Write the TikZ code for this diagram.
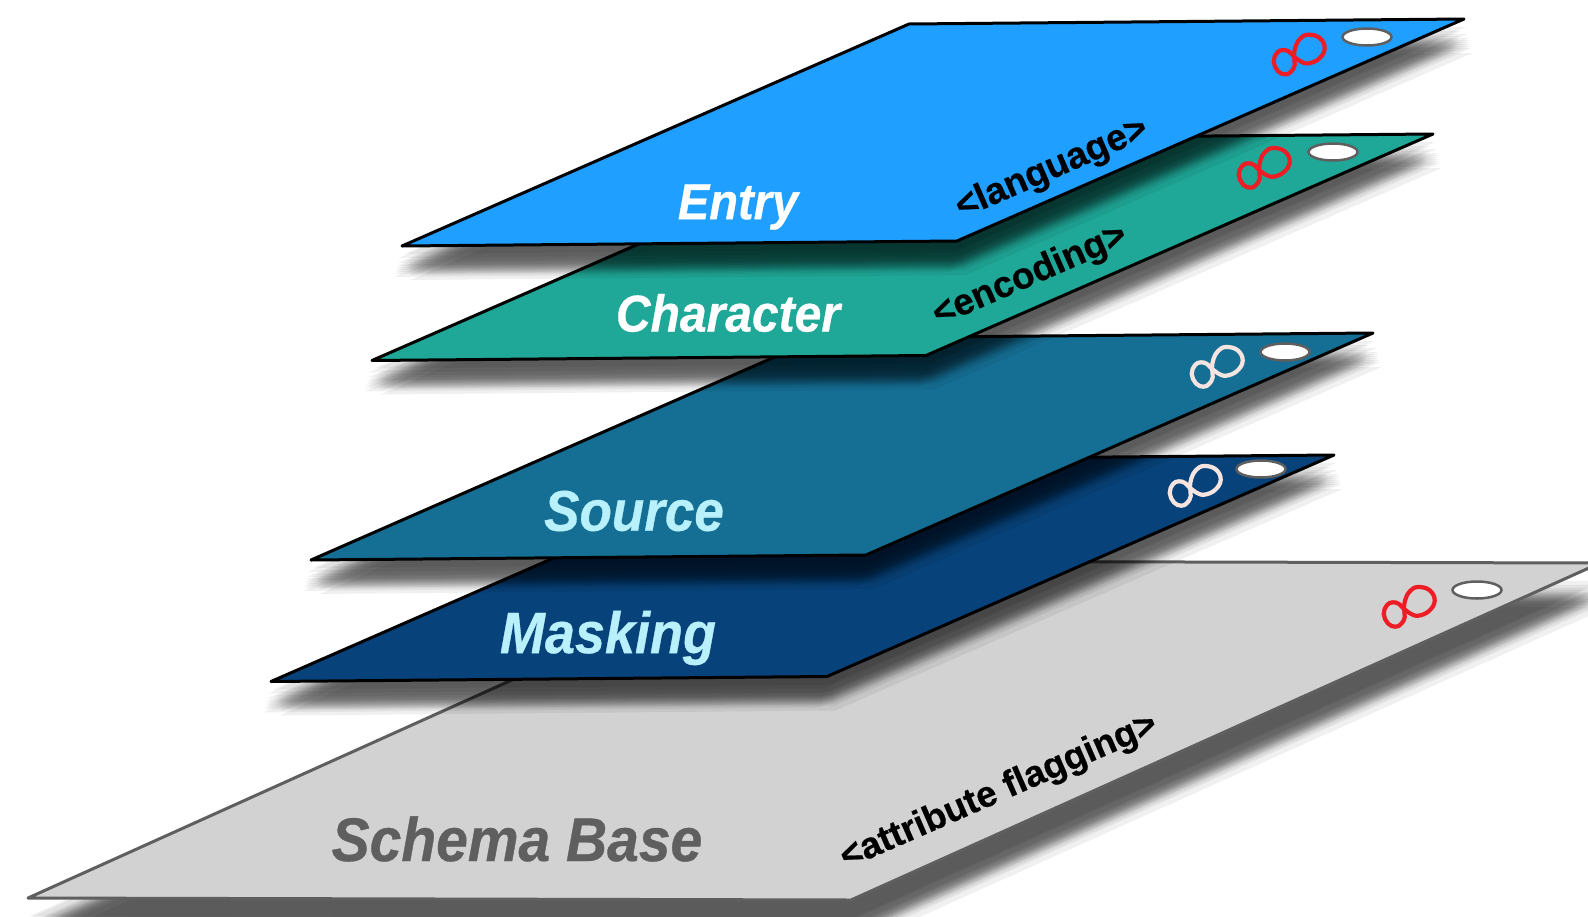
\documentclass[tikz,border=0pt]{standalone}
\usepackage{fontspec}
\usetikzlibrary{shapes.geometric}
\setmainfont{Liberation Sans}[BoldFeatures={FakeBold=0.6},BoldItalicFeatures={FakeBold=0.6}]
\definecolor{cEntry}{HTML}{1F9FFF}
\definecolor{cChar}{HTML}{1FA797}
\definecolor{cSource}{HTML}{156F95}
\definecolor{cMask}{HTML}{08427A}
\definecolor{cBase}{HTML}{D2D2D2}
\definecolor{cDark}{HTML}{5F5F5F}
\definecolor{cLight}{HTML}{B8F1FB}
\definecolor{cRed}{HTML}{EE1C25}
\definecolor{cPale}{HTML}{F5E4E0}
\tikzset{
  plane/.style={line width=3pt,line join=round},
  title/.style={inner sep=0pt,text=white},
  tag/.style={inner sep=0pt,text=black,rotate=23.6},
  hole/.style={draw=cDark,fill=white,line width=2.5pt,ellipse,minimum width=49pt,minimum height=17pt,inner sep=0pt},
  loopmark/.pic={\draw[line width=4.2pt,line join=round,pic actions]
     plot[smooth cycle,tension=.7] coordinates {(14,-21)(6,-17)(1.5,-9)(0,0)(0.7,9.3)(-3,16)(-8.7,18.7)(-16,15.5)(-20.3,6)(-17,-3)(-11,-5.7)(-5,-4)(0,1)(5.7,5.2)(14,7.7)(25,3)(30.7,-7.3)(25.7,-17.7)};},
}
% #1 extra drop, #2 the outline of the sheet
\newcommand{\softshadow}[2]{%
  \foreach \s [count=\i] in {8,12,15,17,19,20,21,22,23,24,25,26,27,28,29,31,34}{%
    \pgfmathsetmacro{\dx}{0.25*\s*(mod(\i,2)*2-1)}%
    \pgfmathsetmacro{\dy}{\s+#1}%
    \fill[black,opacity=.06,shift={(\dx,\dy)}] #2;}}
\begin{document}
\begin{tikzpicture}[x=1pt,y=-1pt]
\path[use as bounding box] (0,0) rectangle (1588,916);
\clip (0,0) rectangle (1588,916);
% Schema Base
\softshadow{10}{(28,898)--(851,900)--(1600,563)--(776,561)--cycle}
\fill[cBase,draw=cDark,plane] (28,898)--(851,900)--(1600,563)--(776,561)--cycle;
\node[title,text=cDark,font=\fontsize{57}{57}\selectfont\bfseries\itshape] (nbase) at (517,839) {\scalebox{1}[1.08]{Schema Base}};
\node[tag,font=\fontsize{36.6}{36.6}\selectfont\bfseries] (tbase) at (999,792) {<attribute flagging>};
\node[hole] (hbase) at (1477,590) {};
\pic[cRed] at (1404,608) {loopmark};
% Masking
\softshadow{0}{(271,681.5)--(827,676.5)--(1334,455)--(778,460)--cycle}
\fill[cMask,draw=black,plane] (271,681.5)--(827,676.5)--(1334,455)--(778,460)--cycle;
\node[title,text=cLight,font=\fontsize{54}{54}\selectfont\bfseries\itshape] (nmask) at (608,638) {\scalebox{1}[1.08]{Masking}};
\node[hole] (hmask) at (1261,469) {};
\pic[cPale] at (1190,487) {loopmark};
% Source
\softshadow{0}{(311,560)--(866,555)--(1373,333)--(818,338)--cycle}
\fill[cSource,draw=black,plane] (311,560)--(866,555)--(1373,333)--(818,338)--cycle;
\node[title,text=cLight,font=\fontsize{53}{53}\selectfont\bfseries\itshape] (nsource) at (634,511) {\scalebox{1}[1.08]{Source}};
\node[hole] (hsource) at (1285,352) {};
\pic[cPale] at (1212,368) {loopmark};
% Character
\softshadow{0}{(372,360.5)--(926,355.5)--(1433,134)--(879,139)--cycle}
\fill[cChar,draw=black,plane] (372,360.5)--(926,355.5)--(1433,134)--(879,139)--cycle;
\node[title,font=\fontsize{48}{48}\selectfont\bfseries\itshape] (nchar) at (728,313) {\scalebox{1}[1.08]{Character}};
\node[tag,font=\fontsize{37}{37}\selectfont\bfseries] (tchar) at (1030,276) {<encoding>};
\node[hole] (hchar) at (1333,152) {};
\pic[cRed] at (1259,169) {loopmark};
% Entry
\softshadow{0}{(402,246)--(957,241)--(1464,19)--(909,24)--cycle}
\fill[cEntry,draw=black,plane] (402,246)--(957,241)--(1464,19)--(909,24)--cycle;
\node[title,font=\fontsize{47}{47}\selectfont\bfseries\itshape] (nentry) at (738,207) {\scalebox{1}[1.08]{Entry}};
\node[tag,font=\fontsize{37}{37}\selectfont\bfseries] (tentry) at (1052,169) {<language>};
\node[hole] (hentry) at (1367,37) {};
\pic[cRed] at (1294,55.7) {loopmark};
\end{tikzpicture}
\end{document}
